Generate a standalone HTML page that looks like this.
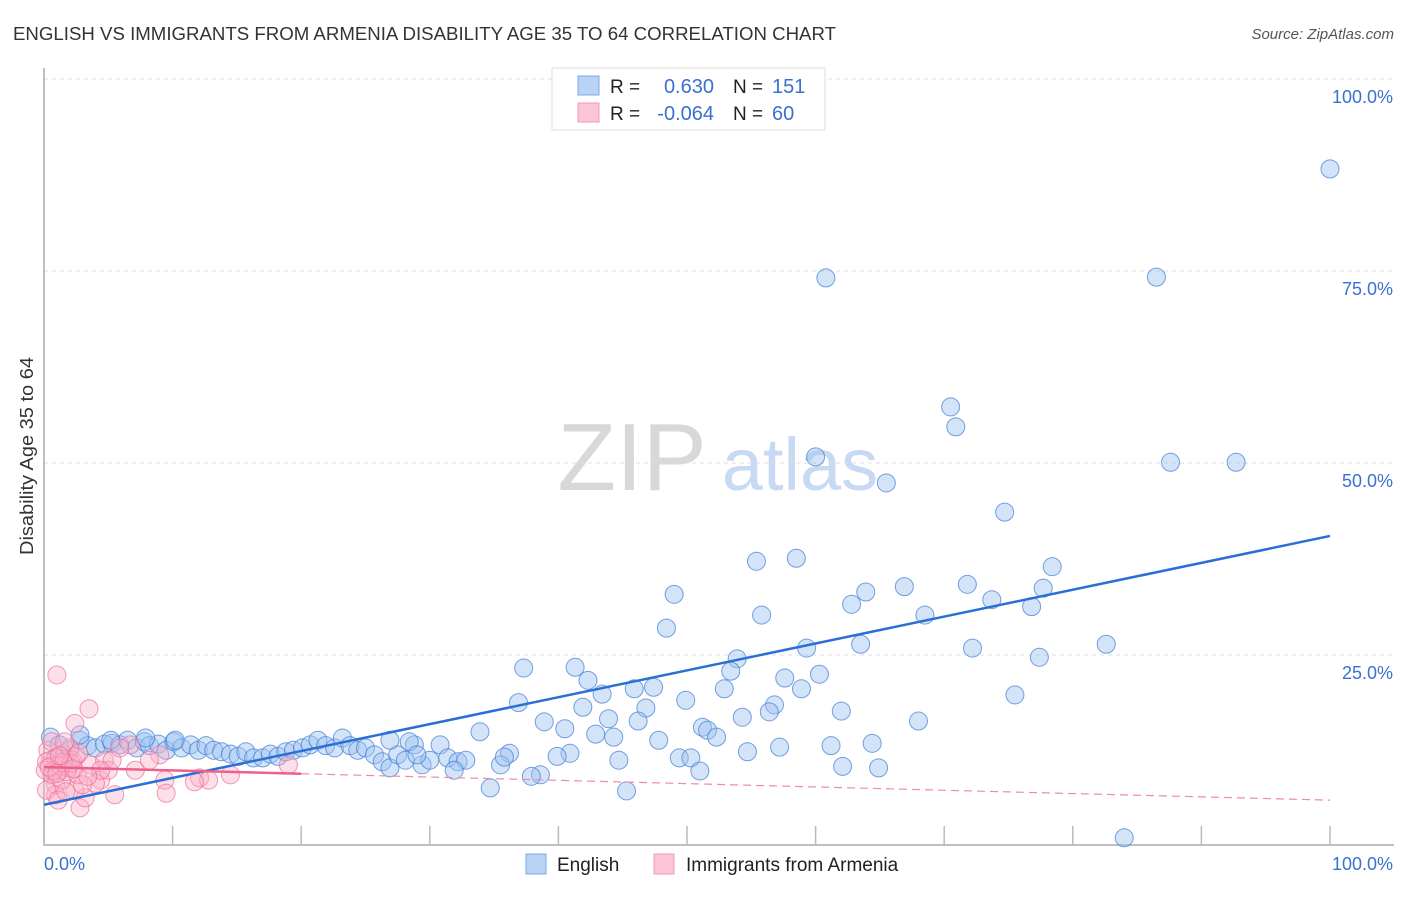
<!DOCTYPE html>
<html><head><meta charset="utf-8"><style>
body{margin:0;background:#fff;font-family:"Liberation Sans",sans-serif;}
svg text{font-family:"Liberation Sans",sans-serif;}
</style></head><body>
<svg id="chart" width="1406" height="892" viewBox="0 0 1406 892" xmlns="http://www.w3.org/2000/svg">
<text x="13" y="40" font-size="18" fill="#333" textLength="823" lengthAdjust="spacingAndGlyphs">ENGLISH VS IMMIGRANTS FROM ARMENIA DISABILITY AGE 35 TO 64 CORRELATION CHART</text>
<text x="1394" y="39" font-size="15" fill="#555" text-anchor="end" font-style="italic">Source: ZipAtlas.com</text>
<text transform="translate(33,456) rotate(-90)" font-size="18" fill="#333" text-anchor="middle" textLength="198" lengthAdjust="spacingAndGlyphs">Disability Age 35 to 64</text>
<g><text x="632" y="490" font-size="96" fill="#d8d8d8" font-family="Liberation Serif" text-anchor="middle">ZIP</text><text x="800" y="490" font-size="74" fill="#c8daf3" text-anchor="middle">atlas</text></g>
<g id="grid"></g>
<g id="axes"></g>
<g id="pts"></g>
<g id="lines"></g>
<g>
<rect x="552" y="68" width="273" height="62" fill="#fff" stroke="#ddd"/>
<rect x="578" y="76" width="21" height="19" fill="#b9d3f5" stroke="#7ea8e6"/>
<rect x="578" y="103" width="21" height="19" fill="#fcc5d5" stroke="#f09ab5"/>
<text x="610" y="93" font-size="19" fill="#222">R =</text><text x="714" y="93" font-size="20" fill="#3a70d0" text-anchor="end">0.630</text>
<text x="733" y="93" font-size="19" fill="#222">N =</text><text x="772" y="93" font-size="20" fill="#3a70d0">151</text>
<text x="610" y="120" font-size="19" fill="#222">R =</text><text x="714" y="120" font-size="20" fill="#3a70d0" text-anchor="end">-0.064</text>
<text x="733" y="120" font-size="19" fill="#222">N =</text><text x="772" y="120" font-size="20" fill="#3a70d0">60</text>
</g>
<g>
<rect x="526" y="854" width="20" height="20" fill="#b9d3f5" stroke="#7ea8e6"/>
<text x="557" y="871" font-size="19" fill="#222">English</text>
<rect x="654" y="854" width="20" height="20" fill="#fcc5d5" stroke="#f09ab5"/>
<text x="686" y="871" font-size="19" fill="#222">Immigrants from Armenia</text>
</g>
</svg>
<script>
const yTicks=[25,50,75,100];
const yTickLabels=["25.0%","50.0%","75.0%","100.0%"];
const xTickVals=[0,10,20,30,40,50,60,70,80,90,100];
const englishX=[100,60.8,86.5,70.5,70.9,60.0,87.6,92.7,65.5,74.7,55.4,58.5,78.4,71.8,66.9,77.7,63.9,49.0,73.7,62.8,76.8,68.5,55.8,48.4,59.3,63.5,82.6,72.2,77.4,53.9,37.3,41.3,53.4,60.3,42.3,57.6,47.4,45.9,52.9,43.4,58.9,75.5,36.9,49.9,56.8,41.9,46.8,56.4,62.0,54.3,38.9,43.9,46.2,68.0,40.5,51.2,51.6,33.9,42.9,44.3,52.3,47.8,64.4,61.2,57.2,54.7,40.9,39.9,36.2,49.4,50.3,44.7,62.1,64.9,51.0,38.6,37.9,34.7,45.3,84.0,
0.5,1.2,2.0,2.8,3.4,4.0,4.7,5.3,5.9,6.5,7.2,7.8,8.2,8.9,9.5,10.1,10.7,11.4,12.0,12.6,13.2,13.8,14.5,15.1,15.7,16.3,17.0,17.6,18.2,18.8,19.4,20.1,20.7,21.3,21.9,22.6,23.2,23.8,24.4,25.0,25.7,26.3,26.9,27.5,28.1,28.8,29.4,30.0,30.8,31.4,32.2,32.8,31.9,35.5,35.8,26.9,28.4,2.8,5.2,7.9,10.2,29.0];
const englishY=[88.3,74.1,74.2,57.3,54.7,50.8,50.1,50.1,47.4,43.6,37.2,37.6,36.5,34.2,33.9,33.7,33.2,32.9,32.2,31.6,31.3,30.2,30.2,28.5,25.9,26.4,26.4,25.9,24.7,24.5,23.3,23.4,22.9,22.5,21.7,22.0,20.8,20.6,20.6,19.9,20.6,19.8,18.8,19.1,18.5,18.2,18.1,17.6,17.7,16.9,16.3,16.7,16.4,16.4,15.4,15.6,15.2,15.0,14.7,14.3,14.3,13.9,13.5,13.2,13.0,12.4,12.2,11.8,12.2,11.6,11.6,11.3,10.5,10.3,9.9,9.4,9.2,7.7,7.3,1.2,
14.3,13.3,12.6,13.9,13.2,12.9,13.4,13.5,13.3,13.9,12.9,13.7,13.2,13.4,12.6,13.7,12.9,13.3,12.6,13.2,12.6,12.4,12.1,11.8,12.4,11.6,11.6,12.1,11.8,12.4,12.6,12.9,13.3,13.9,13.2,12.9,14.2,13.2,12.6,12.9,12.0,11.1,10.3,12.0,11.3,13.3,10.7,11.3,13.3,11.6,11.1,11.3,10.0,10.7,11.7,13.9,13.7,14.6,13.9,14.2,13.9,12.0];
const armeniaX=[1.0,3.5,2.4,4.7,7.1,9.4,9.0,12.1,12.8,11.7,14.5,19.0,9.5,2.8,3.2,5.5,4.4,2.4,0.9,1.2,0.5,1.6,2.0,0.3,0.6,1.1,1.4,1.9,2.2,2.6,0.1,0.9,3.6,4.0,5.0,5.3,8.2,6.7,5.9,0.6,1.6,3.0,0.2,1.1,1.7,4.4,3.4,2.5,0.9,0.2,1.3,1.8,2.1,0.7,1.5,2.3,0.4,1.0,2.7,1.2];
const armeniaY=[22.4,18.0,16.1,11.3,10.0,8.7,12.0,9.0,8.7,8.5,9.4,10.7,7.0,5.1,6.4,6.8,8.7,7.4,8.1,10.0,11.3,12.0,12.9,12.6,9.4,10.7,8.7,10.3,11.3,9.4,10.0,6.8,10.7,8.3,10.0,11.3,11.3,13.3,12.9,13.7,13.7,8.1,7.4,6.1,7.2,10.0,9.2,11.8,11.6,11.1,10.5,9.8,10.9,9.9,11.0,10.2,10.4,9.6,12.2,11.9];
const englishTrend=[5.5,40.5];
const armeniaTrend=[10.4,6.1];
const armeniaSolidEnd=20;
const X0=44,X1=1330,Y0=847,Y100=79;
const sx=v=>X0+(X1-X0)*v/100, sy=v=>Y0-(Y0-Y100)*v/100;
const NS="http://www.w3.org/2000/svg";
function mk(t,a,p){const e=document.createElementNS(NS,t);for(const k in a)e.setAttribute(k,a[k]);p.appendChild(e);return e;}
const grid=document.getElementById('grid'),axes=document.getElementById('axes'),pts=document.getElementById('pts'),lines=document.getElementById('lines');
yTicks.forEach((v,i)=>{
 const g=mk('line',{x1:X0,x2:1394,y1:sy(v),y2:sy(v),stroke:'#ddd','stroke-dasharray':'4,4'},grid);
 
 
 const t=mk('text',{x:1393,y:sy(v)+24,'font-size':18,fill:'#3a70d0','text-anchor':'end'},grid);
 t.textContent=yTickLabels[i];
 
 
});
const ax=mk('path',{d:`M${X0} 68 V845 H1394`,fill:'none',stroke:'#aaa','stroke-width':1.5},axes);


xTickVals.forEach(v=>{const l=mk('line',{x1:sx(v),x2:sx(v),y1:826,y2:845,stroke:'#bbb','stroke-width':1.5},axes);
 
 });
const xl=mk('text',{x:44,y:870,'font-size':18,fill:'#3a70d0'},axes);xl.textContent='0.0%';


const xr=mk('text',{x:1393,y:870,'font-size':18,fill:'#3a70d0','text-anchor':'end'},axes);xr.textContent='100.0%';


englishX.forEach((x,i)=>{const c=mk('circle',{cx:sx(x),cy:sy(englishY[i]),r:9,fill:'rgba(160,196,240,0.45)',stroke:'rgba(70,130,215,0.75)','stroke-width':1},pts);
 
 });
armeniaX.forEach((x,i)=>{const c=mk('circle',{cx:sx(x),cy:sy(armeniaY[i]),r:9,fill:'rgba(250,175,200,0.4)',stroke:'rgba(235,110,150,0.7)','stroke-width':1},pts);
 
 });
const bl=mk('line',{x1:sx(0),y1:sy(englishTrend[0]),x2:sx(100),y2:sy(englishTrend[1]),stroke:'#2a6fd6','stroke-width':2.5},lines);


const ay=x=>armeniaTrend[0]+(armeniaTrend[1]-armeniaTrend[0])*x/100;
const pd=mk('line',{x1:sx(armeniaSolidEnd),y1:sy(ay(armeniaSolidEnd)),x2:sx(100),y2:sy(ay(100)),stroke:'#f08aa8','stroke-width':1.2,'stroke-dasharray':'8,5'},lines);


const ps=mk('line',{x1:sx(0),y1:sy(ay(0)),x2:sx(armeniaSolidEnd),y2:sy(ay(armeniaSolidEnd)),stroke:'#ee5f8a','stroke-width':2.5},lines);


</script>
</body></html>
